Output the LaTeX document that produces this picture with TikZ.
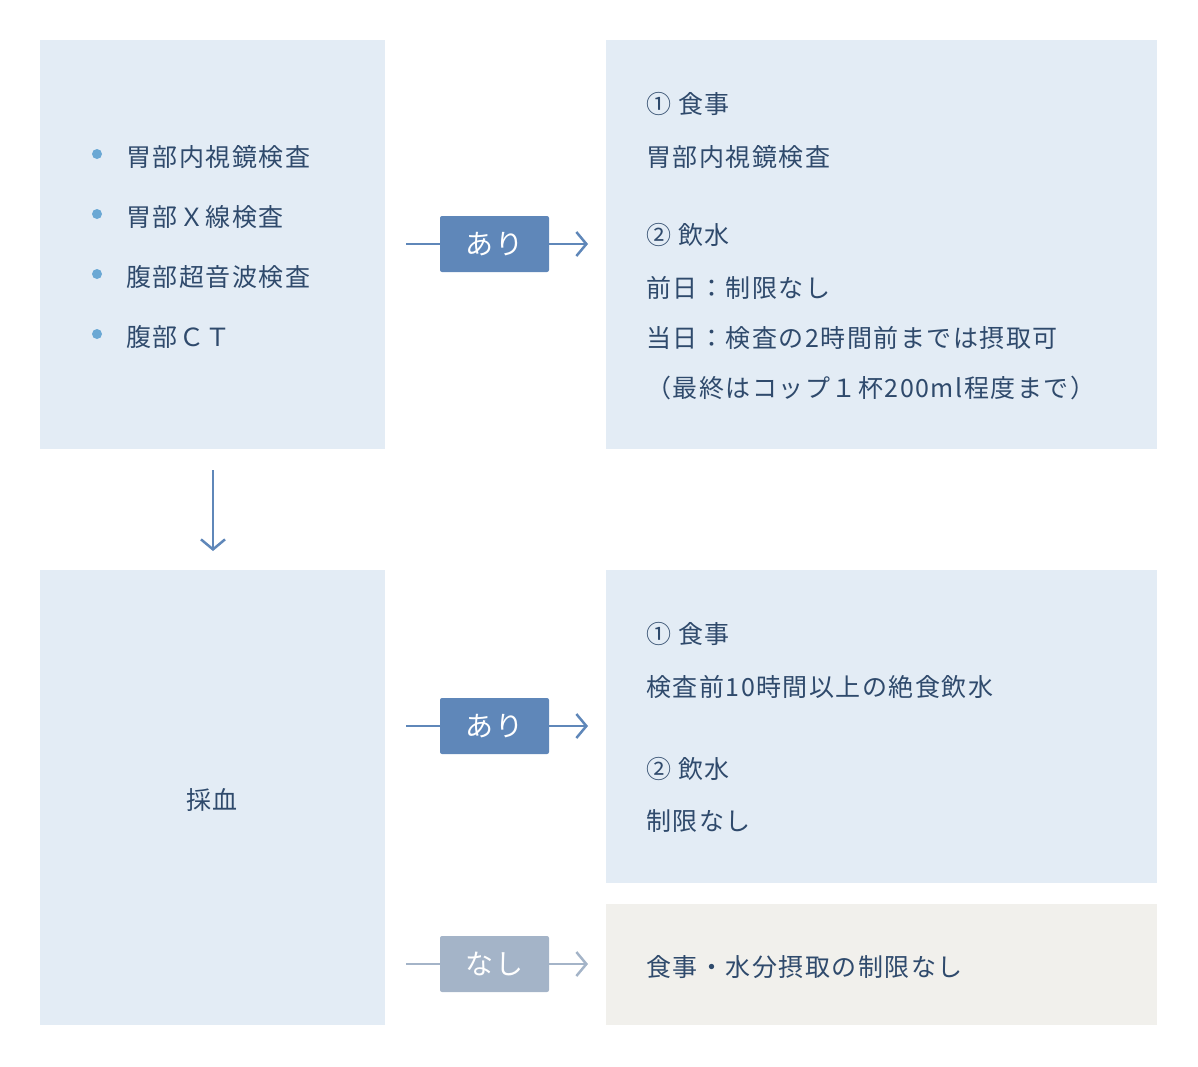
\documentclass[tikz,border=0pt]{standalone}
\usepackage{fontspec}
\setmainfont{Noto Sans CJK JP}
\usetikzlibrary{arrows.meta}
\definecolor{boxb}{HTML}{E3ECF5}
\definecolor{boxg}{HTML}{F1F0EC}
\definecolor{tagb}{HTML}{5F87B9}
\definecolor{tagg}{HTML}{A4B4C8}
\definecolor{txt}{HTML}{2F4A6C}
\definecolor{bul}{HTML}{6BA8D4}
\begin{document}
\begin{tikzpicture}[x=1pt,y=-1pt,
  t/.style={text=txt,font=\fontsize{25}{28}\selectfont\addfontfeatures{LetterSpace=6},anchor=west,inner sep=0},
  tag/.style={fill=#1,text=white,minimum width=109pt,minimum height=56pt,rounded corners=2pt,font=\fontsize{28}{30}\selectfont\addfontfeatures{LetterSpace=10},inner sep=0},
  conn/.style={draw=#1,line width=2.5pt},
  arr/.style={draw=#1,line width=2.5pt,-{Straight Barb[length=10pt,width=24pt,line width=2.5pt]}}]
\useasboundingbox (0,0) rectangle (1198,1066);
\fill[boxb] (40,40) rectangle (385,449);
\fill[boxb] (606,40) rectangle (1157,449);
\fill[boxb] (40,570) rectangle (385,1025);
\fill[boxb] (606,570) rectangle (1157,883);
\fill[boxg] (606,904) rectangle (1157,1025);
\foreach \y/\s [count=\i] in {157/胃部内視鏡検査,217/胃部Ｘ線検査,277/腹部超音波検査,337/腹部ＣＴ}{
  \fill[bul] (97,\y-3) circle (5);
  \node[t] (l\i) at (126,\y) {\s};}
\node[t] (a1) at (646,104) {① 食事};
\node[t] (a2) at (646,157) {胃部内視鏡検査};
\node[t] (a3) at (646,235) {② 飲水};
\node[t] (a4) at (646,288) {前日：制限なし};
\node[t] (a5) at (646,338) {当日：検査の2時間前までは摂取可};
\node[t] (a6) at (646,388) {（最終はコップ１杯200ml程度まで）};
\node[t,anchor=center] (c) at (212,800) {採血};
\node[t] (b1) at (646,634) {① 食事};
\node[t] (b2) at (646,687) {検査前10時間以上の絶食飲水};
\node[t] (b3) at (646,769) {② 飲水};
\node[t] (b4) at (646,821) {制限なし};
\node[t] (g1) at (646,967) {食事・水分摂取の制限なし};
\coordinate (d0) at (213,470); \coordinate (d1) at (213,551);
\draw[arr=tagb] (d0) -- (d1);
\foreach \y/\c/\s [count=\i] in {244/tagb/あり,726/tagb/あり,964/tagg/なし}{
  \coordinate (s\i) at (406,\y); \coordinate (e\i) at (588,\y);
  \node[tag=\c] (k\i) at (494.5,\y) {\s};
  \draw[conn=\c] (s\i) -- (k\i.west);
  \draw[arr=\c] (k\i.east) -- (e\i);}
\end{tikzpicture}
\end{document}
